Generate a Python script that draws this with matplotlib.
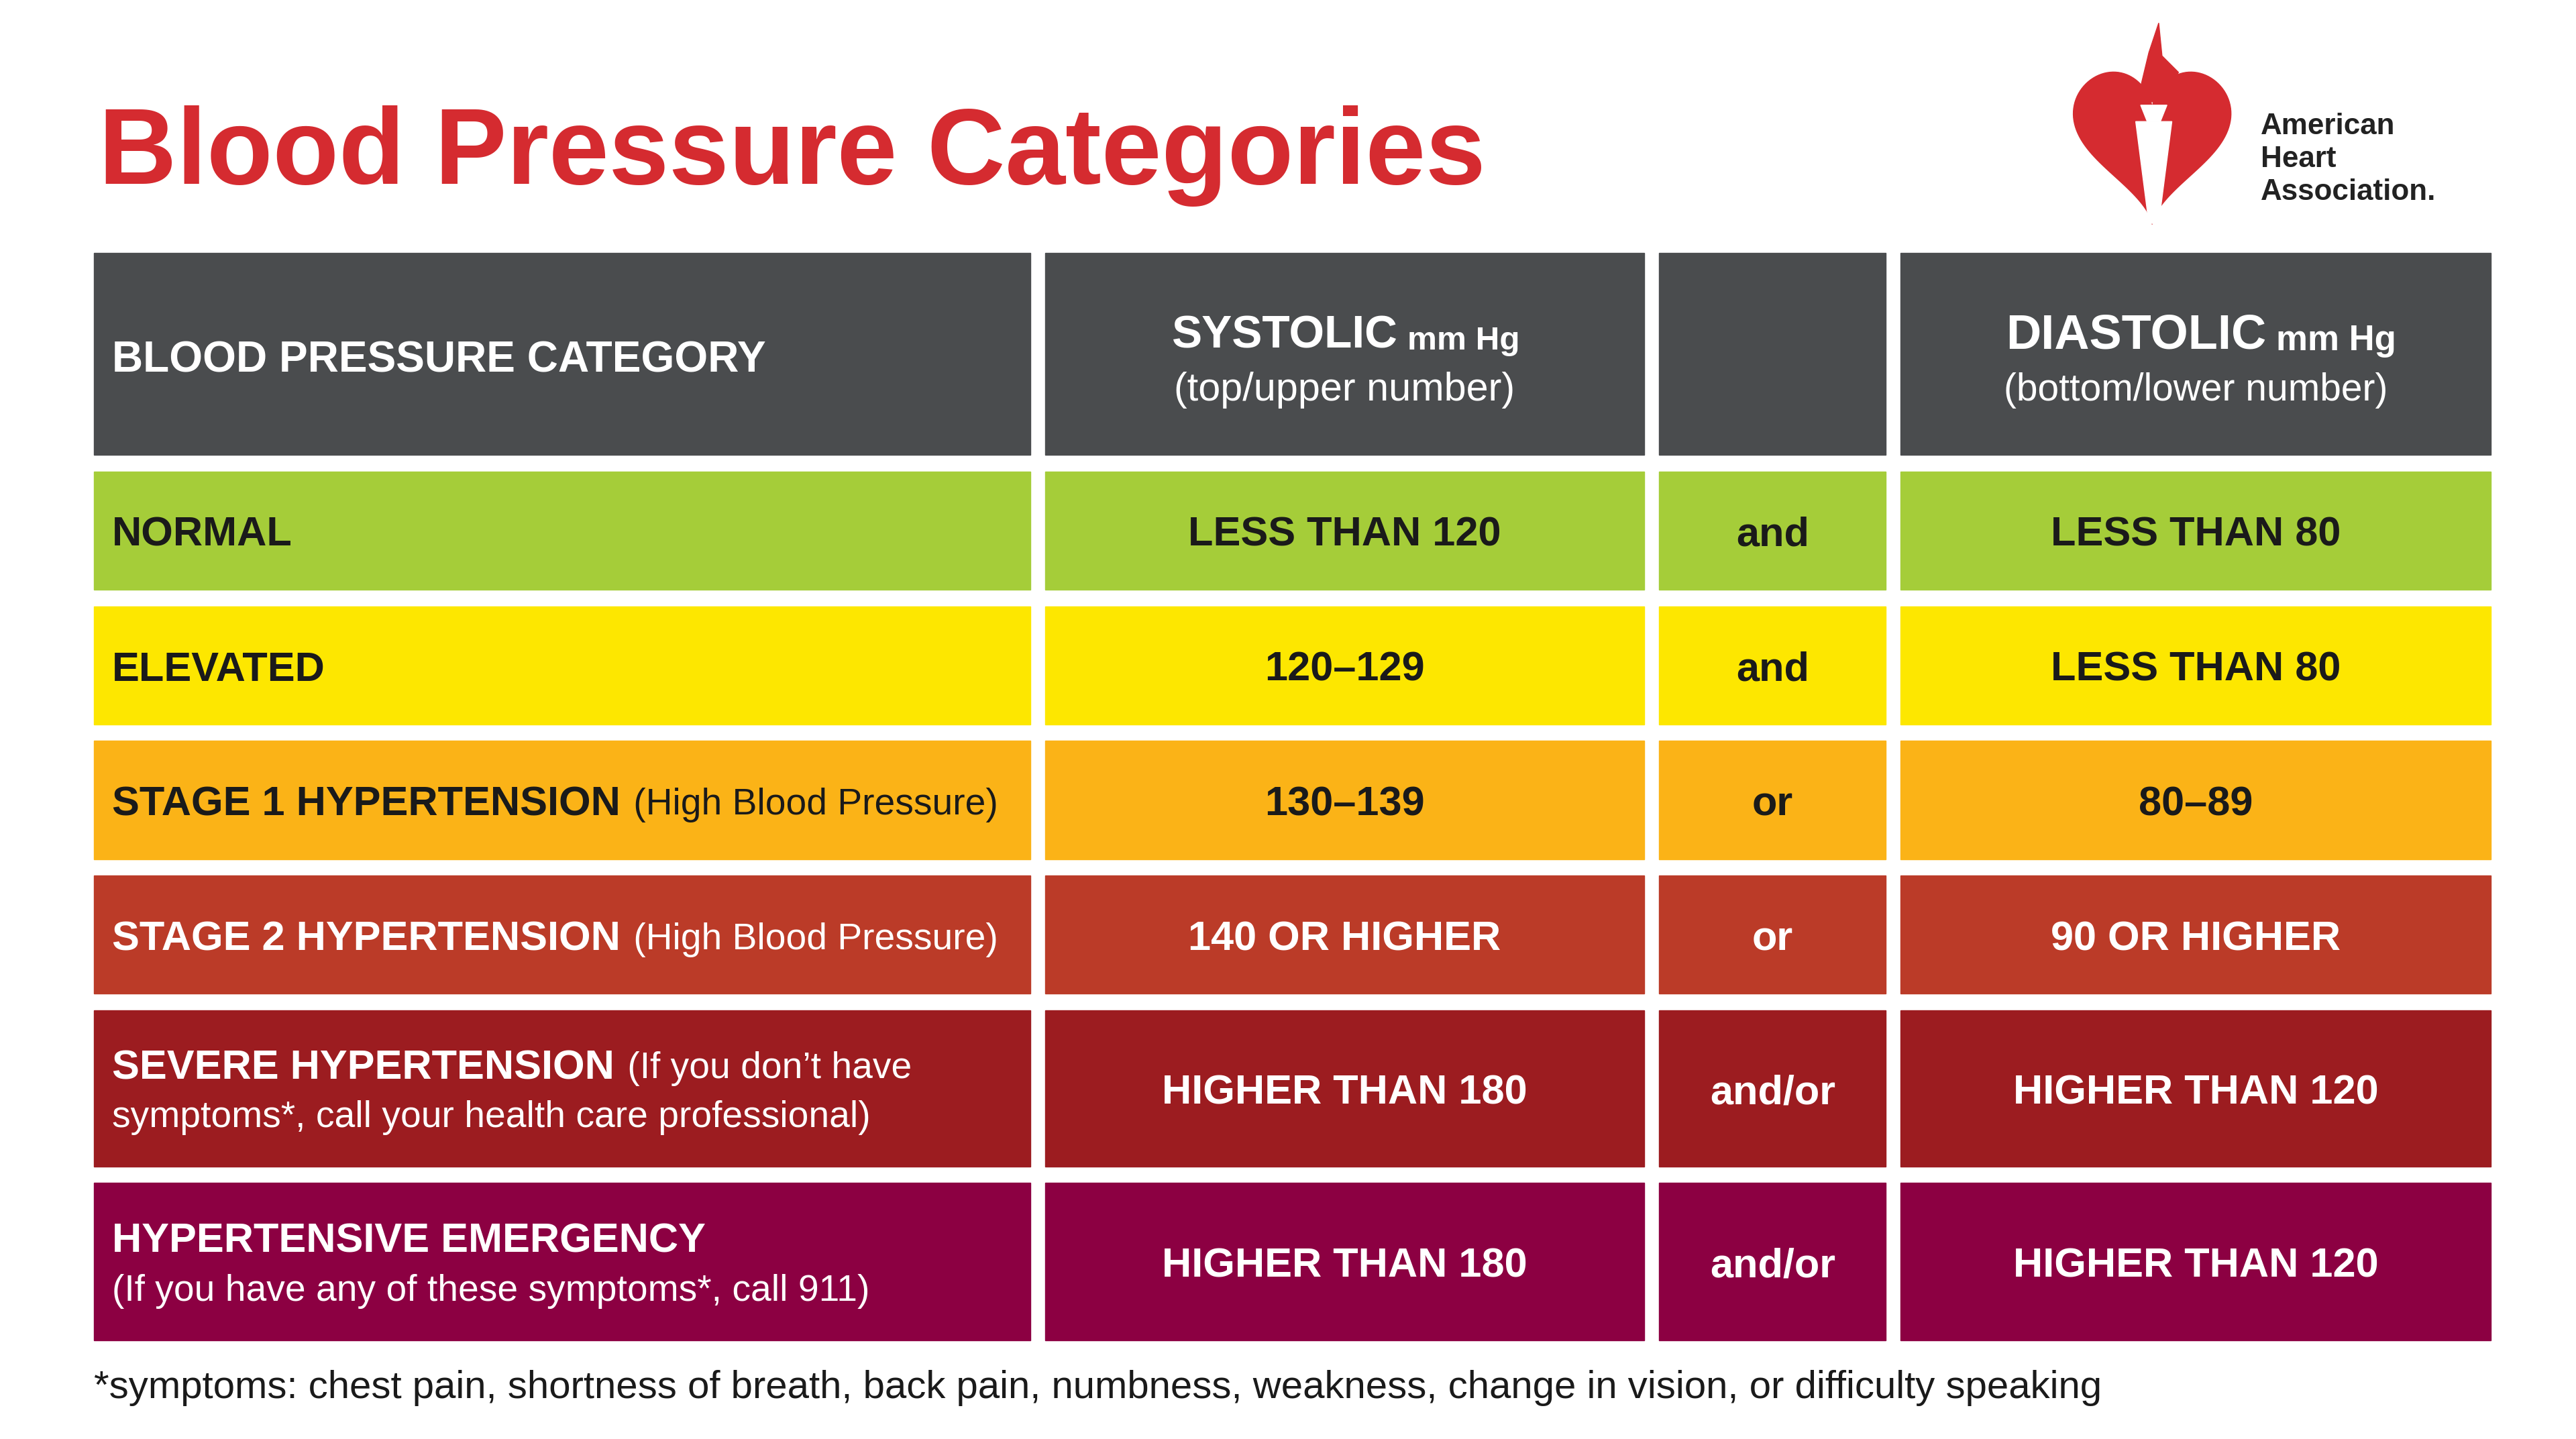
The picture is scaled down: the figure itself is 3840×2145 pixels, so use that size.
import matplotlib
matplotlib.use('Agg')
import matplotlib.pyplot as plt
from matplotlib.patches import Rectangle, Polygon
import numpy as np

plt.rcParams['font.family'] = ['Liberation Sans', 'DejaVu Sans']

# --- data ---
categories_bold = ['NORMAL', 'ELEVATED', 'STAGE 1 HYPERTENSION', 'STAGE 2 HYPERTENSION',
                   'SEVERE HYPERTENSION', 'HYPERTENSIVE EMERGENCY']
categories_note = ['', '', ' (High Blood Pressure)', ' (High Blood Pressure)',
                   " (If you don’t have\nsymptoms*, call your health care professional)",
                   '\n(If you have any of these symptoms*, call 911)']
systolic = ['LESS THAN 120', '120–129', '130–139', '140 OR HIGHER', 'HIGHER THAN 180', 'HIGHER THAN 180']
connector = ['and', 'and', 'or', 'or', 'and/or', 'and/or']
diastolic = ['LESS THAN 80', 'LESS THAN 80', '80–89', '90 OR HIGHER', 'HIGHER THAN 120', 'HIGHER THAN 120']
row_colors = ['#a5cd39', '#fde700', '#fbb317', '#bb3b28', '#9c1c20', '#8c0042']
text_colors = ['#1a1a1a', '#1a1a1a', '#1a1a1a', 'white', 'white', 'white']
footnote = ('*symptoms: chest pain, shortness of breath, back pain, numbness, weakness, '
            'change in vision, or difficulty speaking')

W, H = 1568, 876
S = 1.763  # points per layout unit
DY = 3     # baseline nudge so caps sit centred like the reference

fig = plt.figure(figsize=(38.4, 21.45), dpi=100)
ax = fig.add_axes([0, 0, 1, 1])
ax.set_xlim(0, W)
ax.set_ylim(H, 0)
ax.axis('off')
fig.canvas.draw()
renderer = fig.canvas.get_renderer()


def xr(t):
    bb = t.get_window_extent(renderer)
    inv = ax.transData.inverted()
    return inv.transform((bb.x0, 0))[0], inv.transform((bb.x1, 0))[0]


def fit(t, width):
    # scale text so it spans the reference width
    a, b = xr(t)
    t.set_fontsize(t.get_fontsize() * width / (b - a))
    return t


cols = [(57, 627), (636, 1001), (1010, 1148), (1157, 1516)]
header = (154, 277)
rows = [(287, 359), (369, 441), (451, 523), (533, 605), (615, 710), (720, 816)]
HEAD = '#4a4c4e'

fit(ax.text(60, 95, 'Blood Pressure Categories', fontsize=76 * S, fontweight='bold',
            color='#d52b30', va='center', ha='left'), 845)

for x0, x1 in cols:
    ax.add_patch(Rectangle((x0, header[0]), x1 - x0, header[1] - header[0], color=HEAD))
hy = (header[0] + header[1]) / 2
fit(ax.text(68, hy + 4, 'BLOOD PRESSURE CATEGORY', fontsize=30 * S, fontweight='bold', color='white',
            va='center', ha='left'), 398)
for (x0, x1), main, sub, span in [(cols[1], 'SYSTOLIC', '(top/upper number)', (713, 925)),
                                  (cols[3], 'DIASTOLIC', '(bottom/lower number)', (1221, 1459))]:
    cx = (x0 + x1) / 2
    t = ax.text(span[0], hy - 11, main, fontsize=26 * S, fontweight='bold', color='white',
                va='center', ha='left')
    a, b = xr(t)
    m = ax.text(b + 6, hy - 8, 'mm Hg', fontsize=19 * S, fontweight='bold', color='white',
                va='center', ha='left')
    a2, b2 = xr(m)
    scale = (span[1] - span[0]) / (b2 - span[0])
    t.set_fontsize(t.get_fontsize() * scale)
    m.set_fontsize(m.get_fontsize() * scale)
    a, b = xr(t)
    m.set_x(b + 6)
    fit(ax.text(cx, hy + 22, sub, fontsize=24 * S, color='white', va='center', ha='center'),
        span[1] - span[0] - 4)

for i, (y0, y1) in enumerate(rows):
    c = row_colors[i]
    tc = text_colors[i]
    for x0, x1 in cols:
        ax.add_patch(Rectangle((x0, y0), x1 - x0, y1 - y0, color=c))
    cy = (y0 + y1) / 2 + DY
    fs = 25 * S
    note = categories_note[i]
    if '\n' in note:
        first, second = note.split('\n')
        ly = cy - 15
    else:
        first, second = note, None
        ly = cy
    t = ax.text(68, ly, categories_bold[i], fontsize=fs, fontweight='bold', color=tc,
                va='center', ha='left')
    a, xend = xr(t)
    if first:
        ax.text(xend + 2, ly, first, fontsize=fs * 0.9, color=tc, va='center', ha='left')
    if second is not None:
        ax.text(68, cy + 15, second, fontsize=fs * 0.9, color=tc, va='center', ha='left')
    for (x0, x1), s in [(cols[1], systolic[i]), (cols[2], connector[i]), (cols[3], diastolic[i])]:
        ax.text((x0 + x1) / 2, cy, s, fontsize=fs, fontweight='bold', color=tc,
                va='center', ha='center')

fit(ax.text(57, 845, footnote, fontsize=24 * S, color='#1a1a1a', va='center', ha='left'), 1223)

# logo: heart with torch
tt = np.linspace(0, 2 * np.pi, 200)
hx = 16 * np.sin(tt) ** 3
hyv = 13 * np.cos(tt) - 5 * np.cos(2 * tt) - 2 * np.cos(3 * tt) - np.cos(4 * tt)
ax.add_patch(Polygon(np.column_stack([1310 + hx * 3.0, 82 - hyv * 3.2]), color='#d52b30'))
ax.add_patch(Polygon([(1300, 74), (1322, 74), (1314, 136), (1308, 136)], color='white'))
ax.add_patch(Polygon([(1303, 64), (1319, 64), (1315, 74), (1307, 74)], color='white'))
ax.add_patch(Polygon([(1302, 57), (1308, 32), (1314, 14), (1316, 34), (1326, 44), (1318, 62), (1304, 62)],
                     color='#d52b30'))
for k, w in enumerate(['American', 'Heart', 'Association.']):
    ax.text(1376, 77 + k * 20, w, fontsize=18 * S, fontweight='bold', color='#222222',
            va='center', ha='left')

fig.savefig('out.png', dpi=100, facecolor='white')
